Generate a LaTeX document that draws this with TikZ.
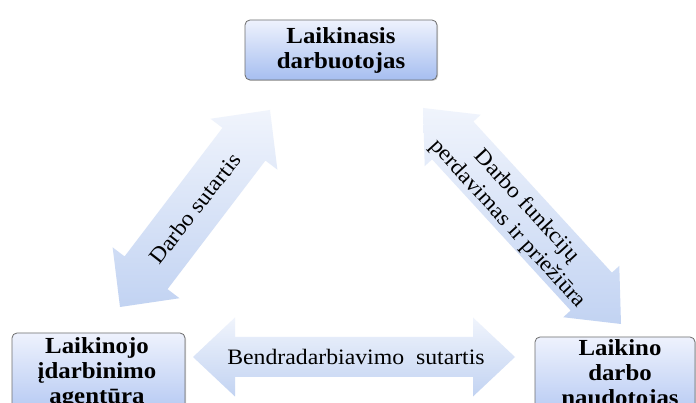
\documentclass[tikz,border=0pt]{standalone}
\usepackage{fontspec}
\setmainfont{Liberation Serif}[FakeStretch=1.08]
\usetikzlibrary{calc,shadows}
\definecolor{boxtop}{HTML}{EEF2FD}
\definecolor{boxbot}{HTML}{A6BEF0}
\definecolor{boxline}{HTML}{6E6E6E}
\definecolor{arrtop}{HTML}{F0F4FC}
\definecolor{arrbot}{HTML}{C2D3F2}
\tikzset{
  boxstyle/.style={draw=boxline, line width=0.8pt, rounded corners=5pt,
    top color=boxtop, bottom color=boxbot, inner sep=0pt,
    drop shadow={shadow xshift=1pt, shadow yshift=-1pt, opacity=0.35}},
  boxtext/.style={font=\fontsize{23}{25}\selectfont\bfseries, align=center, inner sep=0pt},
  arrowfill/.style={top color=arrtop, bottom color=arrbot, draw=none},
  lbltext/.style={font=\fontsize{22}{26}\selectfont, align=center, inner sep=0pt}
}
% #1 tip A, #2 tip B, #3 head length, #4 head half width, #5 shaft half width, #6 prefix
\newcommand\blockarrow[6]{%
  \coordinate (#6ba) at ($(#1)!#3!(#2)$);
  \coordinate (#6bb) at ($(#2)!#3!(#1)$);
  \path[arrowfill] (#1) -- ($(#6ba)!#4!90:(#1)$) -- ($(#6ba)!#5!90:(#1)$)
    -- ($(#6bb)!#5!-90:(#2)$) -- ($(#6bb)!#4!-90:(#2)$) -- (#2)
    -- ($(#6bb)!#4!90:(#2)$) -- ($(#6bb)!#5!90:(#2)$)
    -- ($(#6ba)!#5!-90:(#1)$) -- ($(#6ba)!#4!-90:(#1)$) -- cycle;
}
\begin{document}
\begin{tikzpicture}[x=1pt,y=1pt]
\useasboundingbox (0,0) rectangle (696,403);
\clip (0,0) rectangle (696,403);
\fill[white] (0,0) rectangle (696,403);

% arrows
\coordinate (la1) at (270,293);
\coordinate (la2) at (120,96);
\blockarrow{la1}{la2}{43pt}{42pt}{27pt}{l}
\coordinate (ra1) at (423,295);
\coordinate (ra2) at (621,79);
\blockarrow{ra1}{ra2}{44pt}{38pt}{28pt}{r}
\coordinate (ba1) at (193,46);
\coordinate (ba2) at (515,46);
\blockarrow{ba1}{ba2}{42pt}{39.5pt}{20pt}{b}

% labels
\node[lbltext, rotate=52] (lsut) at (195,194.5) {Darbo sutartis};
\node[lbltext, rotate=-47.5] (rsut) at (517,188) {Darbo funkcijų\\perdavimas ir priežiūra};
\node[lbltext] (bsut) at (356,46) {Bendradarbiavimo\ \ sutartis};

% boxes
\node[boxstyle, boxtext, minimum width=192pt, minimum height=60pt] (worker) at (341,353) {Laikinasis\\darbuotojas};
\node[boxstyle, minimum width=173pt, minimum height=100pt] (agency) at (98.5,20) {};
\node[boxtext, anchor=north] (agencyt) at (97,65.3) {Laikinojo\\įdarbinimo\\agentūra};
\node[boxstyle, minimum width=160pt, minimum height=100pt] (user) at (615,16) {};
\node[boxtext, anchor=north] (usert) at (620,64) {Laikino\\darbo\\naudotojas};
\end{tikzpicture}
\end{document}
